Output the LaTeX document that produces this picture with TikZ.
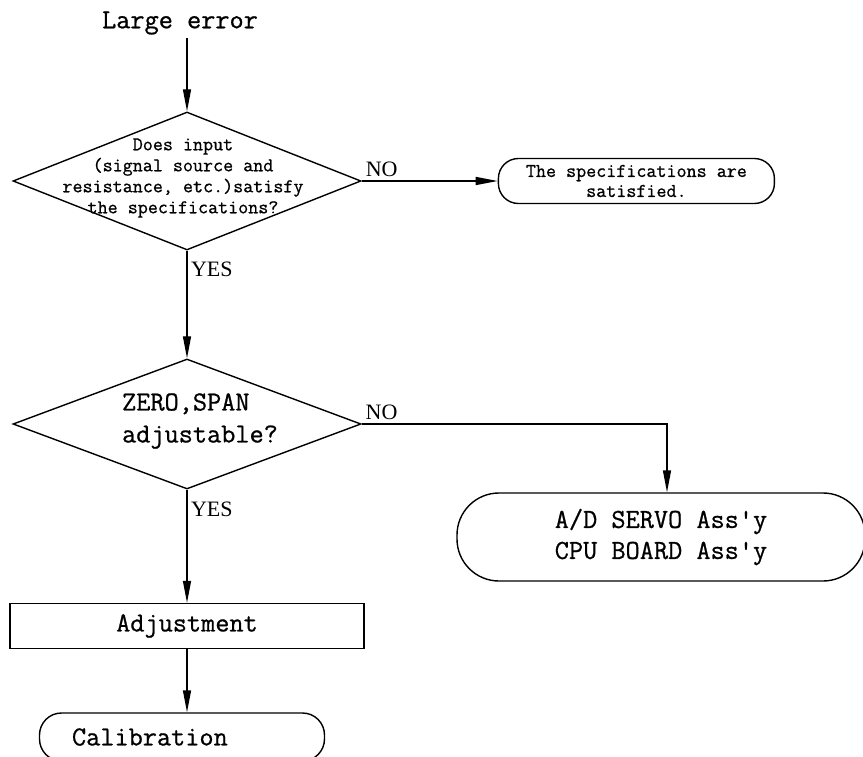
\documentclass[tikz,border=0pt]{standalone}
\usepackage{fontspec}
\setmainfont{Liberation Serif}
\setmonofont{Latin Modern Mono}[FakeBold=0.8]
\usepackage{tikz}
\usetikzlibrary{positioning}
\usetikzlibrary{arrows.meta,shapes.geometric}

\tikzset{
	flow/.style={line width=1.4pt},
	arr/.style={flow,-{Triangle[length=22pt,width=8pt]}},
	decision/.style={diamond,draw,flow,inner sep=0pt},
	terminal/.style={rectangle,draw,flow,rounded corners=#1,align=center},
	terminal/.default=20pt,
	small/.style={font=\ttfamily\fontsize{19.5}{21}\selectfont,align=center},
	big/.style={font=\ttfamily\fontsize{27.5}{31}\selectfont},
	answer/.style={font=\fontsize{22}{24}\selectfont},
}

\begin{document}
\begin{tikzpicture}[x=1pt,y=1pt]
	\useasboundingbox (0,0) rectangle (863,-757);
	\node[big] (start) at (180,-23) {Large error};
	
	\node[decision,minimum width=348pt,minimum height=138pt] (d1) at (187,-181) {};
	\node[small] (q1) at (183,-178) {Does input\\(signal source and\\resistance, etc.)satisfy\\the specifications?};
	\node[terminal,small,minimum width=276pt,minimum height=45pt,inner sep=2pt,font=\ttfamily\fontsize{19.5}{20}\selectfont] (sat) [right = 136pt of d1] {The specifications are\\satisfied.};
	
	\node[decision,minimum width=348pt,minimum height=130pt] (d2) at (187,-424) {};
	\node[big,align=left,font=\ttfamily\fontsize{27.5}{32}\selectfont] (q2) at (200,-421) {ZERO,SPAN\\adjustable?};
	\node[terminal=42pt,big,minimum width=408pt,minimum height=88pt] (srv) at (661,-537) {A/D SERVO Ass'y\\CPU BOARD Ass'y};
	
	\node[draw,flow,big,minimum width=354pt,minimum height=45pt] (adj) at (187,-626) {Adjustment};
	\node[terminal=22pt,big,minimum width=285pt,minimum height=48pt,text width=220pt,inner xsep=32.5pt,align=left] (cal) at (182,-737) {Calibration};
	
	\draw[arr] (start.south -| d1.north) -- (d1.north);
	\draw[arr] (d1) -- node [answer,above right,pos=0] {NO} (sat);
	\draw[arr] (d1) -- node [answer,right,pos=0.17] {YES} (d2);
	\draw[arr] (d2) -| node [answer,above right,pos=0] {NO} ([xshift=6pt]srv.north);
	\draw[arr] (d2) -- node [answer,right,pos=0.17] {YES} (adj);
	\draw[arr] (adj.south) -- (adj.south |- cal.north);
\end{tikzpicture}
\end{document}
